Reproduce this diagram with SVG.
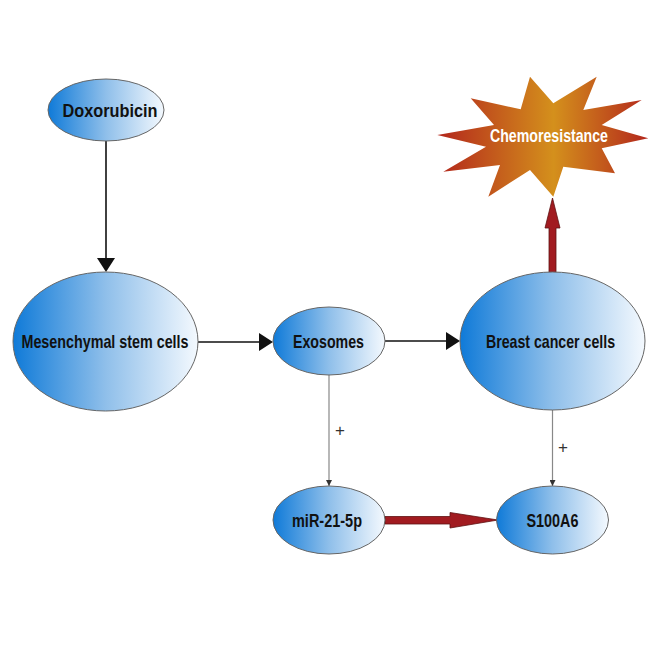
<svg xmlns="http://www.w3.org/2000/svg" width="664" height="664" viewBox="0 0 664 664">
<defs>
<linearGradient id="blue" x1="0" y1="0" x2="1" y2="0">
<stop offset="0" stop-color="#0f7ad8"/>
<stop offset="0.5" stop-color="#8fbfea"/>
<stop offset="1" stop-color="#f4f9fe"/>
</linearGradient>
<linearGradient id="star" gradientUnits="userSpaceOnUse" x1="437" y1="0" x2="649" y2="0">
<stop offset="0" stop-color="#b3261c"/>
<stop offset="0.55" stop-color="#d4901c"/>
<stop offset="1" stop-color="#b3261c"/>
</linearGradient>
<marker id="thin" viewBox="0 0 10 10" refX="10" refY="5" markerWidth="6" markerHeight="6" markerUnits="userSpaceOnUse" orient="auto">
<path d="M0,0 L10,5 L0,10 Z" fill="#333"/>
</marker>
</defs>
<style>
.node ellipse{fill:url(#blue);stroke:#666;stroke-width:1}
.lbl{font-family:"Liberation Sans",Arial,sans-serif;font-weight:bold;font-size:18.5px;fill:#111;text-anchor:middle}
.plus{font-family:"Liberation Sans",Arial,sans-serif;font-size:17px;fill:#333;text-anchor:middle}
.blk{stroke:#111;stroke-width:1.6;fill:none}
.gry{stroke:#888;stroke-width:1.2;fill:none}
.red{fill:#a11b20;stroke:#5e1212;stroke-width:0.8}
</style>
<rect width="664" height="664" fill="#fff"/>
<g id="connectors">
<line class="blk" x1="106" y1="141" x2="106" y2="259"/>
<path d="M97,258 L115,258 L106,272 Z" fill="#111"/>
<line class="blk" x1="198" y1="342" x2="260" y2="342"/>
<path d="M259,333 L259,351 L273,342 Z" fill="#111"/>
<line class="blk" x1="385" y1="341" x2="447" y2="341"/>
<path d="M446,332 L446,350 L460,341 Z" fill="#111"/>
<line class="gry" x1="329" y1="375" x2="329" y2="486" marker-end="url(#thin)"/>
<line class="gry" x1="552.5" y1="410" x2="552.5" y2="486" marker-end="url(#thin)"/>
<path class="red" d="M385,516.5 L450,516.5 L450,512.5 L498,520 L450,528 L450,524 L385,524 Z"/>
<path class="red" d="M549,273 L549,228 L545,228 L552.5,198 L560,228 L556,228 L556,273 Z"/>
<text class="plus" x="340" y="436">+</text>
<text class="plus" x="563" y="453">+</text>
</g>
<g id="chemoresistance">
<polygon fill="url(#star)" points="530,76.7 553.3,103.3 596.7,76.7 583.3,110 641.7,100 601.7,125 648.3,138.3 601.7,148.3 615,173.3 563.3,166.7 553.3,196.7 530,170 488.3,196.7 500,165 443.3,171.7 486,146.7 437.3,135 494,125 470.7,98.3 520.7,109.3"/>
<text x="549" y="142" font-family="Liberation Sans, Arial, sans-serif" font-weight="bold" font-size="19" fill="#fff" text-anchor="middle" textLength="118" lengthAdjust="spacingAndGlyphs">Chemoresistance</text>
</g>
<g id="doxorubicin" class="node">
<ellipse cx="106" cy="110" rx="58" ry="31"/>
<text class="lbl" x="110" y="117" textLength="95" lengthAdjust="spacingAndGlyphs">Doxorubicin</text>
</g>
<g id="msc" class="node">
<ellipse cx="105.5" cy="341.5" rx="92.5" ry="69.5"/>
<text class="lbl" x="105" y="347.5" textLength="167" lengthAdjust="spacingAndGlyphs">Mesenchymal stem cells</text>
</g>
<g id="exosomes" class="node">
<ellipse cx="329" cy="341" rx="56" ry="34"/>
<text class="lbl" x="328.5" y="347.5" textLength="71" lengthAdjust="spacingAndGlyphs">Exosomes</text>
</g>
<g id="bcc" class="node">
<ellipse cx="552.5" cy="341" rx="92.5" ry="69"/>
<text class="lbl" x="550.5" y="347.5" textLength="129" lengthAdjust="spacingAndGlyphs">Breast cancer cells</text>
</g>
<g id="mir" class="node">
<ellipse cx="329" cy="520" rx="56" ry="34"/>
<text class="lbl" x="327" y="526.5" textLength="70" lengthAdjust="spacingAndGlyphs">miR-21-5p</text>
</g>
<g id="s100a6" class="node">
<ellipse cx="552.5" cy="520" rx="56" ry="34"/>
<text class="lbl" x="552.5" y="526.5" textLength="52" lengthAdjust="spacingAndGlyphs">S100A6</text>
</g>
</svg>
